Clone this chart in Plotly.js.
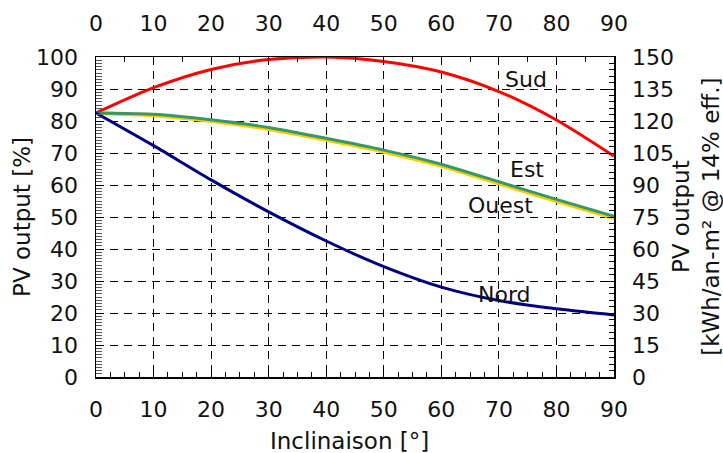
<!DOCTYPE html>
<html>
<head>
<meta charset="utf-8">
<script src="https://cdn.plot.ly/plotly-3.0.1.min.js"></script>
<style>html,body{margin:0;padding:0;background:#fff;}#chart{width:723px;height:453px;}</style>
</head>
<body>
<div id="chart"></div>
<script>
const inclinaison = [0, 10, 20, 30, 40, 50, 60, 70, 80, 90];
const sud   = [82.5, 90.4, 96.1, 99.2, 100, 98.6, 95.3, 89.2, 80.3, 69.0];
const est   = [82.5, 82.1, 80.4, 78.0, 74.6, 70.9, 66.5, 61.0, 55.5, 50.2];
const ouest = [82.5, 81.8, 80.0, 77.5, 74.1, 70.4, 66.0, 60.5, 55.0, 49.7];
const nord  = [82.5, 72.3, 61.6, 51.6, 42.5, 34.5, 28.1, 23.9, 21.3, 19.4];
const seriesNames = ['Sud', 'Est', 'Ouest', 'Nord'];
const yTickLeft = [0,10,20,30,40,50,60,70,80,90,100];
const yTickRight = [0,15,30,45,60,75,90,105,120,135,150];

const F = 'DejaVu Sans, Verdana, sans-serif';
const fs = 22;
const ft = 23;

const traces = [
  {x: inclinaison, y: sud, name: seriesNames[0], mode: 'lines', line: {color: '#ff0000', width: 3, shape: 'spline', smoothing: 0.8}},
  {x: inclinaison, y: ouest, name: seriesNames[2], mode: 'lines', line: {color: '#ffcc00', width: 4, shape: 'spline', smoothing: 0.6}},
  {x: inclinaison, y: est, name: seriesNames[1], mode: 'lines', line: {color: '#339966', width: 3, shape: 'spline', smoothing: 0.6}},
  {x: inclinaison, y: nord, name: seriesNames[3], mode: 'lines', line: {color: '#000080', width: 3, shape: 'spline', smoothing: 0.8}},
  {x: [0, 90], y: [0, 0], xaxis: 'x2', yaxis: 'y2', mode: 'lines', line: {width: 0}, hoverinfo: 'skip', showlegend: false}
];

const axCommon = {
  showline: true, linecolor: '#000', linewidth: 1.5, zeroline: false,
  ticks: 'inside', ticklen: 7, tickcolor: '#000', tickwidth: 1,
  tickfont: {family: F, size: fs, color: '#111'}, ticklabelstandoff: 12
};

const ann = (text, x, y, extra) => Object.assign({text: text, x: x, y: y, xref: 'x', yref: 'y', showarrow: false,
  xanchor: 'center', yanchor: 'middle', font: {family: F, size: fs, color: '#111'}}, extra || {});

const layout = {
  width: 723, height: 453,
  margin: {l: 96, r: 109, t: 57, b: 76},
  paper_bgcolor: '#fff', plot_bgcolor: '#fff',
  showlegend: false,
  font: {family: F, size: fs, color: '#111'},
  xaxis: Object.assign({}, axCommon, {
    range: [0, 90], dtick: 10, tick0: 0,
    showgrid: true, gridcolor: '#000', gridwidth: 1, griddash: '8px,6px',
    minor: {dtick: 2.5, ticks: 'inside', ticklen: 5, tickcolor: '#000', showgrid: false}
  }),
  xaxis2: Object.assign({}, axCommon, {
    range: [0, 90], dtick: 10, tick0: 0, overlaying: 'x', side: 'top', anchor: 'y',
    showgrid: false, ticklabelstandoff: 16,
    minor: {dtick: 5, ticks: 'inside', ticklen: 5, tickcolor: '#000', showgrid: false}
  }),
  yaxis: Object.assign({}, axCommon, {
    range: [0, 100], tickvals: yTickLeft,
    showgrid: true, gridcolor: '#000', gridwidth: 1, griddash: '8px,6px',
    minor: {dtick: 1, ticks: 'inside', ticklen: 6, tickcolor: '#555', showgrid: false}
  }),
  yaxis2: Object.assign({}, axCommon, {
    range: [0, 150], tickvals: yTickRight, overlaying: 'y', side: 'right', anchor: 'x',
    showgrid: false,
    minor: {dtick: 3, ticks: 'inside', ticklen: 5, tickcolor: '#000', showgrid: false}
  }),
  annotations: [
    ann('Sud', 74.7, 93.1),
    ann('Est', 74.8, 64.8),
    ann('Ouest', 70.3, 53.75),
    ann('Nord', 70.9, 25.9),
    ann('Inclinaison [°]', 0.49, -0.2, {xref: 'paper', yref: 'paper', font: {family: F, size: ft, color: '#111'}}),
    ann('PV output [%]', -0.143, 0.5, {xref: 'paper', yref: 'paper', textangle: -90, font: {family: F, size: ft, color: '#111'}}),
    ann('PV output<br>[kWh/an-m² @ 14% eff.]', 1.158, 0.5, {xref: 'paper', yref: 'paper', textangle: -90, font: {family: F, size: ft, color: '#111'}})
  ]
};

Plotly.newPlot('chart', traces, layout, {displayModeBar: false, staticPlot: true});
</script>
</body>
</html>
